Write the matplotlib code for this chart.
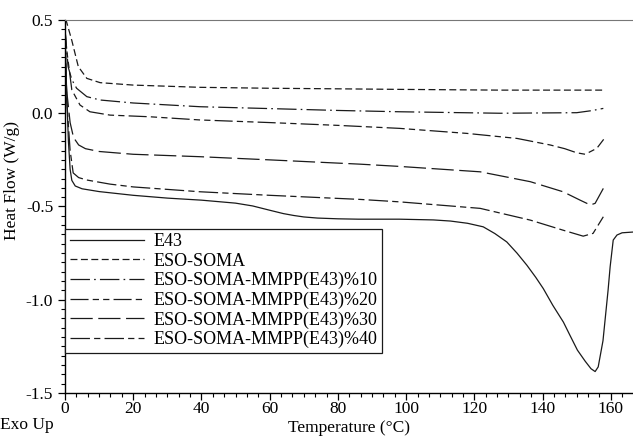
import matplotlib
matplotlib.use("Agg")
import matplotlib.pyplot as plt
from matplotlib.ticker import MultipleLocator, FuncFormatter

plt.rcParams['font.family'] = ['Liberation Serif', 'DejaVu Serif']
plt.rcParams['lines.scale_dashes'] = False

# values (temperature in °C, heat flow in W/g)
t_e43 = [0, 0.5, 1, 1.5, 2, 3, 5, 10, 20, 30, 40, 50, 55, 60, 64, 67, 70, 74,
         80, 86, 98, 108, 113, 118, 122.6, 126, 129.5, 132.5, 135.4, 138,
         140.2, 143, 146.1, 148, 150.2, 152.5, 154.2, 155.4, 156.3, 157.7,
         159.2, 159.8, 160.7, 161.8, 163.3, 166.5]
hf_e43 = [0.45, 0.1, -0.15, -0.3, -0.36, -0.39, -0.405, -0.42, -0.44, -0.455,
          -0.466, -0.482, -0.497, -0.52, -0.538, -0.548, -0.556, -0.562,
          -0.566, -0.568, -0.568, -0.572, -0.578, -0.59, -0.609, -0.645,
          -0.69, -0.75, -0.815, -0.88, -0.94, -1.03, -1.12, -1.19, -1.27,
          -1.33, -1.37, -1.385, -1.36, -1.22, -0.948, -0.823, -0.68, -0.653,
          -0.641, -0.637]

t_soma = [0, 0.3, 2, 3.9, 6.4, 10.3, 20, 39.6, 60, 80, 98, 127.6, 157.8]
hf_soma = [0.5, 0.5, 0.39, 0.25, 0.187, 0.164, 0.151, 0.139, 0.134, 0.131,
           0.128, 0.124, 0.124]

t_10 = [0, 0.9, 2, 3.4, 6.4, 10.3, 20, 39.6, 60, 80, 98, 127.6, 150, 154.4, 157.8]
hf_10 = [0.45, 0.25, 0.18, 0.134, 0.089, 0.071, 0.055, 0.035, 0.025, 0.015,
         0.008, 0.0, 0.003, 0.014, 0.026]

t_20 = [0, 0.5, 2, 4.4, 7.3, 13.2, 25, 39.6, 60, 80, 98, 117.8, 132.5, 142.2,
        146.5, 150, 152.5, 155.9, 157.9]
hf_20 = [0.45, 0.34, 0.125, 0.044, 0.008, -0.01, -0.019, -0.036, -0.05, -0.065,
         -0.081, -0.108, -0.135, -0.17, -0.19, -0.212, -0.22, -0.188, -0.14]

t_30 = [0, 0.5, 1.5, 2.5, 4, 6, 10, 20, 39.6, 60, 86.5, 98, 121.7, 136.4, 146,
        151, 154, 155.4, 157.8]
hf_30 = [0.3, 0.12, -0.05, -0.13, -0.17, -0.19, -0.205, -0.22, -0.233, -0.25,
         -0.273, -0.285, -0.314, -0.367, -0.421, -0.466, -0.492, -0.483, -0.403]

t_40 = [0, 0.5, 1.5, 2.4, 4, 6.4, 13.2, 20, 39.6, 60, 86.5, 98, 121.7, 136.4,
        146, 151.9, 154.8, 157.8]
hf_40 = [0.45, 0.07, -0.2, -0.32, -0.345, -0.358, -0.38, -0.395, -0.421, -0.44,
         -0.462, -0.475, -0.51, -0.573, -0.627, -0.659, -0.644, -0.555]

labels = ['E43', 'ESO-SOMA', 'ESO-SOMA-MMPP(E43)%10', 'ESO-SOMA-MMPP(E43)%20',
          'ESO-SOMA-MMPP(E43)%30', 'ESO-SOMA-MMPP(E43)%40']

# dash patterns in points
styles = [None, (5, 2.5), (14, 3, 1.2, 3), (13, 3, 4.5, 3, 4.5, 3), (16, 4), (14, 3, 4.5, 3)]

series = [(t_e43, hf_e43), (t_soma, hf_soma), (t_10, hf_10), (t_20, hf_20),
          (t_30, hf_30), (t_40, hf_40)]

fig = plt.figure(figsize=(6.33, 4.4), dpi=100)
ax = fig.add_axes([65 / 633, 47 / 440, 568 / 633, 373 / 440])

for (t, hf), lab, dash in zip(series, labels, styles):
    line, = ax.plot(t, hf, color='#1a1a1a', lw=0.9, label=lab)
    if dash is not None:
        line.set_dashes(dash)

ax.set_xlim(0, 166.5)
ax.set_ylim(-1.5, 0.5)
ax.xaxis.set_major_locator(MultipleLocator(20))
ax.xaxis.set_minor_locator(MultipleLocator(20 / 6))
ax.yaxis.set_major_locator(MultipleLocator(0.5))
ax.yaxis.set_minor_locator(MultipleLocator(0.05))
ax.yaxis.set_major_formatter(FuncFormatter(lambda v, p: f"{v:.1f}".replace('\u2212', '-')))

ax.tick_params(which='major', direction='out', length=5, width=0.9, labelsize=12.5)
ax.tick_params(which='minor', direction='out', length=3, width=0.8)
ax.tick_params(axis='x', pad=1)

ax.spines['right'].set_visible(False)
ax.spines['top'].set_color('#777777')
for s in ['left', 'bottom']:
    ax.spines[s].set_linewidth(1.0)

ax.set_xlabel('Temperature (\u00b0C)', fontsize=12.5, labelpad=2)
ax.set_ylabel('Heat Flow (W/g)', fontsize=12.5)
ax.yaxis.set_label_coords(-0.079, 0.571)
fig.text(0.0, 1 - 425 / 440, 'Exo Up', fontsize=12.5, ha='left', va='center')

leg = ax.legend(loc='upper left', bbox_to_anchor=(0, 0.44), borderaxespad=0,
                fontsize=13, handlelength=4.1, handletextpad=0.55,
                labelspacing=0.13, borderpad=0.25, fancybox=False, framealpha=1)
leg.get_frame().set_edgecolor('#1a1a1a')
leg.get_frame().set_linewidth(0.9)

fig.savefig('out.png', dpi=100)
